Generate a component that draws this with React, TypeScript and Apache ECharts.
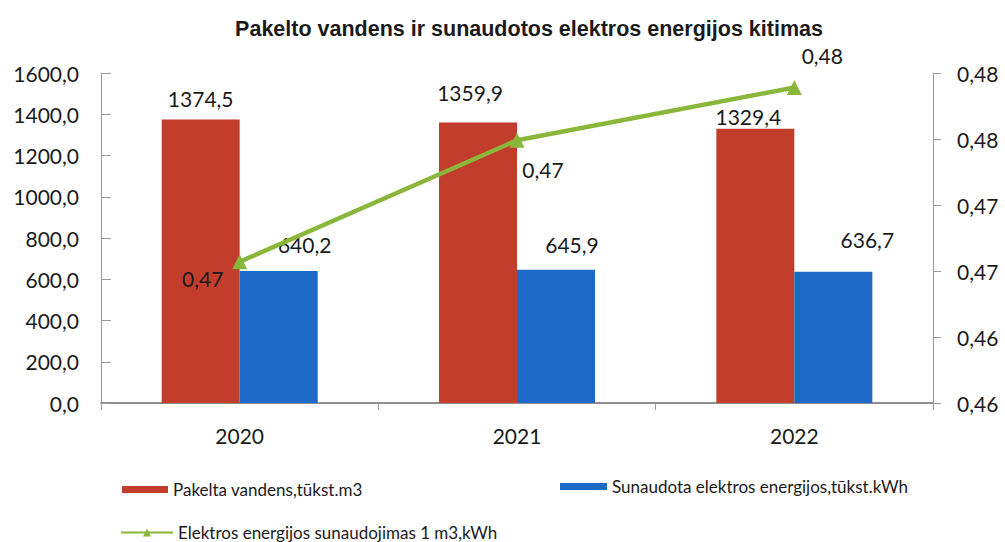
import React, { useEffect, useRef } from "react";
import * as echarts from "echarts";

const years = ["2020", "2021", "2022"];
const waterLifted = [1374.5, 1359.9, 1329.4];
const energyUsed = [640.2, 645.9, 636.7];
const energyPerM3 = [0.4657, 0.4749, 0.4789];

const leftTicks = { min: 0, max: 1600, interval: 200 };
const rightTicks = { min: 0.455, max: 0.48, interval: 0.005 };

const nameWater = "Pakelta vandens,tūkst.m3";
const nameEnergy = "Sunaudota elektros energijos,tūkst.kWh";
const nameRatio = "Elektros energijos sunaudojimas 1 m3,kWh";

// label nudges (presentation only)
const waterLabelOffsets = [[0, -11], [-8, -20], [-7, -2]];
const energyLabelOffsets = [[26, -16], [16, -15], [34, -22]];
const ratioLabelOffsets = [[-37, 17], [26, 29], [28, -32]];

const fmt1 = (v: number) => v.toFixed(1).replace(".", ",");
const fmt2 = (v: number) => (Math.round(v * 100 + 1e-6) / 100).toFixed(2).replace(".", ",");

const FONT = "Lato";
const TXT = "#1a1a1a";
const AXIS = "#9a9a9a";

export default function App() {
  const ref = useRef<HTMLDivElement>(null);
  useEffect(() => {
    if (!ref.current) return;
    const chart = echarts.init(ref.current, undefined, { renderer: "svg" });
    const legendText = { fontFamily: FONT, fontSize: 17, color: TXT };
    chart.setOption({
      animation: false,
      backgroundColor: "#ffffff",
      title: {
        text: "Pakelto vandens ir sunaudotos elektros energijos kitimas",
        left: 524,
        textAlign: "center",
        top: 13,
        textStyle: {
          fontFamily: "Liberation Sans",
          fontWeight: "bold",
          fontSize: 21.5,
          color: TXT,
        },
      },
      grid: { left: 101, right: 72, top: 73, bottom: 139 },
      legend: [
        {
          data: [nameWater],
          left: 117,
          top: 476,
          itemWidth: 46,
          itemHeight: 7,
          icon: "rect",
          textStyle: legendText,
        },
        {
          data: [nameEnergy],
          left: 555,
          top: 473,
          itemWidth: 47,
          itemHeight: 7,
          icon: "rect",
          textStyle: legendText,
        },
        {
          data: [nameRatio],
          left: 115,
          top: 519,
          itemWidth: 52,
          itemHeight: 10,
          textStyle: legendText,
        },
      ],
      xAxis: {
        type: "category",
        data: years,
        axisLine: { lineStyle: { color: "#6a6a6a", width: 1.5 } },
        axisTick: { show: true, length: 7, lineStyle: { color: AXIS } },
        axisLabel: { fontFamily: FONT, fontSize: 21, color: TXT, margin: 22 },
      },
      yAxis: [
        {
          type: "value",
          min: leftTicks.min,
          max: leftTicks.max,
          interval: leftTicks.interval,
          splitLine: { show: false },
          axisLine: { show: true, lineStyle: { color: AXIS } },
          axisTick: { show: true, inside: true, length: 10, lineStyle: { color: AXIS } },
          axisLabel: {
            fontFamily: FONT,
            fontSize: 21,
            color: TXT,
            margin: 22,
            formatter: (v: number) => fmt1(v),
          },
        },
        {
          type: "value",
          position: "right",
          min: rightTicks.min,
          max: rightTicks.max,
          interval: rightTicks.interval,
          splitLine: { show: false },
          axisLine: { show: true, lineStyle: { color: AXIS } },
          axisTick: { show: true, length: 8, lineStyle: { color: AXIS } },
          axisLabel: {
            fontFamily: FONT,
            fontSize: 21,
            color: TXT,
            margin: 24,
            formatter: (v: number) => fmt2(v),
          },
        },
      ],
      series: [
        {
          name: nameWater,
          type: "bar",
          barWidth: 78,
          barGap: "0%",
          itemStyle: { color: "#c23d2b" },
          data: waterLifted.map((v, i) => ({
            value: v,
            label: { offset: waterLabelOffsets[i] },
          })),
          label: {
            show: true,
            position: "top",
            distance: 0,
            fontFamily: FONT,
            fontSize: 21,
            color: TXT,
            formatter: (p: any) => fmt1(p.value),
          },
        },
        {
          name: nameEnergy,
          type: "bar",
          barWidth: 78,
          barGap: "0%",
          itemStyle: { color: "#1c69c7" },
          data: energyUsed.map((v, i) => ({
            value: v,
            label: { offset: energyLabelOffsets[i] },
          })),
          label: {
            show: true,
            position: "top",
            distance: 0,
            fontFamily: FONT,
            fontSize: 21,
            color: TXT,
            formatter: (p: any) => fmt1(p.value),
          },
        },
        {
          name: nameRatio,
          type: "line",
          yAxisIndex: 1,
          symbol: "triangle",
          symbolSize: 15,
          z: 5,
          itemStyle: { color: "#8ab73b" },
          lineStyle: { color: "#8ab73b", width: 4.5 },
          data: energyPerM3.map((v, i) => ({
            value: v,
            label: { offset: ratioLabelOffsets[i] },
          })),
          label: {
            show: true,
            position: "inside",
            fontFamily: FONT,
            fontSize: 21,
            color: TXT,
            formatter: (p: any) => fmt2(p.value),
          },
        },
      ],
    });
    return () => chart.dispose();
  }, []);
  return (
    <div
      ref={ref}
      style={{ position: "fixed", left: 0, top: 0, width: 1005, height: 542, background: "#fff" }}
    />
  );
}
